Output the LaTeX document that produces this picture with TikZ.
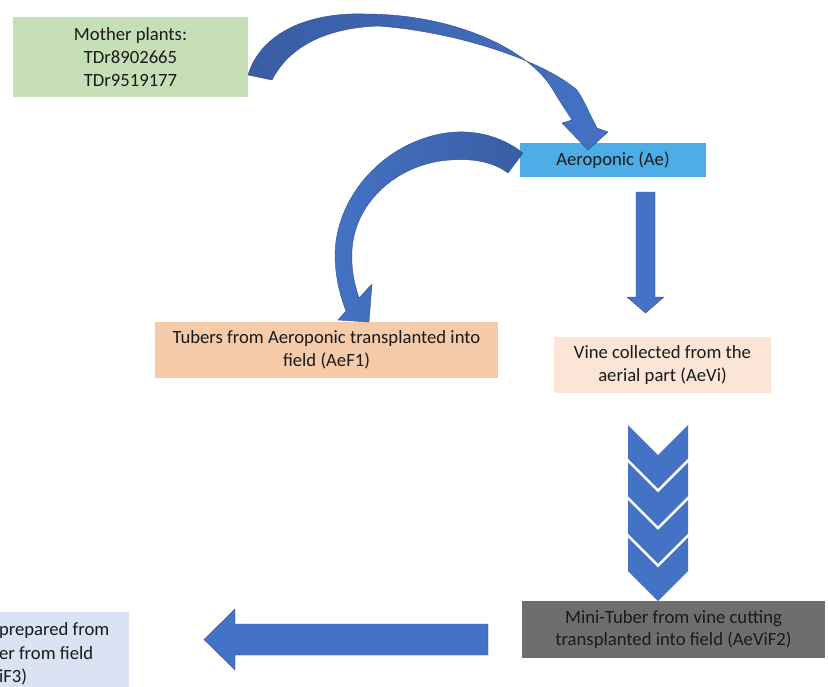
\documentclass[tikz,border=0pt]{standalone}
\usepackage{fontspec}
\setmainfont{Carlito}
\definecolor{greenbox}{HTML}{C7DFB6}
\definecolor{aerobox}{HTML}{4DAEE7}
\definecolor{tuberbox}{HTML}{F6CBA9}
\definecolor{vinebox}{HTML}{FBE5D6}
\definecolor{minibox}{HTML}{6E6E6E}
\definecolor{leftbox}{HTML}{DAE3F3}
\definecolor{arrowblue}{HTML}{4472C4}
\definecolor{arrowdark}{HTML}{3A5DA4}
\definecolor{arrowedge}{HTML}{2F528F}
\definecolor{txt}{HTML}{1A1A1A}
\begin{document}
\begin{tikzpicture}[x=0.75pt,y=-0.75pt,
  box/.style={rectangle, inner sep=0pt, align=center, text=txt,
    font=\fontsize{14}{17}\selectfont},
  blockarrow/.style={fill=arrowblue, draw=arrowedge, line width=0.3pt, line join=round},
  chev/.style={fill=arrowblue, draw=none}]
\useasboundingbox (0,0) rectangle (828,686);
\clip (0,0) rectangle (828,686);

% boxes
\node[box, fill=greenbox, minimum width=176.25pt, minimum height=60pt] (mother) at (130.5,57)
  {Mother plants:\\TDr8902665\\TDr9519177};
\node[box, fill=aerobox, minimum width=139.5pt, minimum height=25.5pt] (aero) at (613,160)
  {Aeroponic (Ae)};
\node[box, fill=tuberbox, minimum width=257.25pt, minimum height=42pt] (tubers) at (326.5,350)
  {Tubers from Aeroponic transplanted into\\field (AeF1)};
\node[box, fill=vinebox, minimum width=162.75pt, minimum height=42pt] (vine) at (662.5,365)
  {Vine collected from the\\aerial part (AeVi)};
\node[box, fill=minibox, minimum width=227.25pt, minimum height=42.75pt] (mini) at (673.5,629.5)
  {Mini-Tuber from vine cutting\\transplanted into field (AeViF2)};
\node[box, fill=leftbox, minimum width=97.5pt, minimum height=63pt, text width=97.5pt,
  align=flush left, font=\fontsize{14}{17.6}\selectfont] (last) at (64,654)
  {prepared from\\er from field\\iF3)};

% curved arrow: mother -> aeroponic
\shade[left color=arrowdark, right color=arrowblue, draw=arrowedge, line width=0.3pt, line join=round]
  (248,75) .. controls (260,35) and (305,12) .. (365,14)
  .. controls (455,14) and (530,50) .. (553,90)
  .. controls (560,102) and (567,112) .. (572,120)
  -- (562,123) -- (588,150) -- (608,132) -- (597,128)
  .. controls (590,115) and (584,100) .. (577,90)
  .. controls (545,62) and (460,32) .. (378,26)
  .. controls (328,28) and (290,45) .. (272,80) -- cycle;

% curved arrow: aeroponic -> tubers
\shade[left color=arrowblue, right color=arrowdark, draw=arrowedge, line width=0.3pt, line join=round]
  (523,153) .. controls (500,135) and (470,128) .. (440,134)
  .. controls (380,146) and (334,200) .. (335,258)
  .. controls (336,282) and (341,298) .. (346,311)
  -- (338,320) -- (369,322) -- (372,284) -- (359,298)
  .. controls (354,283) and (351,268) .. (352,250)
  .. controls (355,200) and (400,163) .. (450,160)
  .. controls (475,158) and (495,163) .. (508,173) -- cycle;

% straight down arrow: aeroponic -> vine
\path[blockarrow] (636,192) -- (655,192) -- (655,297) -- (664,297) -- (645.5,313)
  -- (627,297) -- (636,297) -- cycle;

% chevrons: vine -> mini
\foreach \i in {0,1,2,3}{
  \pgfmathsetmacro{\yy}{425+37.5*\i}
  \path[chev] (628,\yy) -- (658,\yy+30) -- (688,\yy) -- (688,\yy+33.5)
    -- (658,\yy+63.5) -- (628,\yy+33.5) -- cycle;
}

% left arrow: mini -> last
\path[blockarrow] (488,624) -- (235,624) -- (235,609) -- (204,639.5) -- (235,670)
  -- (235,655) -- (488,655) -- cycle;
\end{tikzpicture}
\end{document}
